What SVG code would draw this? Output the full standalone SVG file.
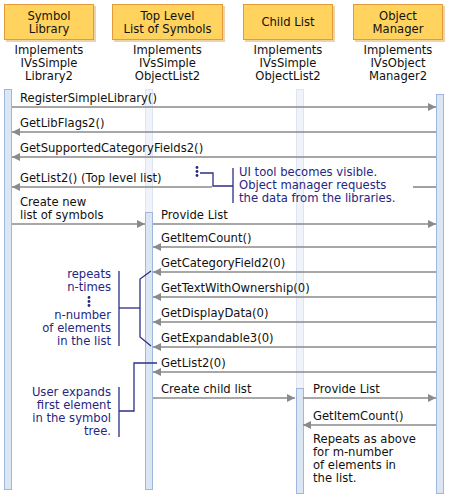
<svg xmlns="http://www.w3.org/2000/svg" width="452" height="497" viewBox="0 0 452 497">
<style>
text{font-family:"DejaVu Sans","Verdana",sans-serif;font-size:11.6px;fill:#111}
.c{text-anchor:middle}
.e{text-anchor:end}
.n{fill:#262680}
.box{fill:#FFD35E;stroke:#E59A3A;stroke-width:1}
.sh{fill:#D8A85A;opacity:0.5}
.bar{fill:#DCE6F3;stroke:#9FB7DF;stroke-width:1}
.faint{fill:#F0F4FA;stroke:#DDE5F2;stroke-width:1}
.msg{stroke:#8A8A8A;stroke-width:1.6;fill:none}
.ann{stroke:#2B2F86;stroke-width:1.3;fill:none}
.dot{fill:#262680}
</style>
<defs>
<marker id="ah" markerUnits="userSpaceOnUse" markerWidth="9" markerHeight="8" refX="8" refY="4" orient="auto">
<path d="M0,0 L8,4 L0,8 z" fill="#8A8A8A"/>
</marker>
</defs>
<rect width="452" height="497" fill="#fff"/>

<g id="lifelines">
<rect class="bar" x="4.5" y="89.5" width="7" height="400"/>
<rect class="faint" x="145.5" y="89.5" width="7" height="123"/>
<rect class="bar" x="145.5" y="212.5" width="7" height="277"/>
<rect class="faint" x="296.5" y="89.5" width="7" height="299"/>
<rect class="bar" x="296.5" y="388.5" width="7" height="105"/>
<rect class="bar" x="436.5" y="94.5" width="7" height="399"/>
</g>

<g id="symbol-library">
<rect class="sh" x="6" y="6" width="90" height="36"/>
<rect class="box" x="4.5" y="4.5" width="89" height="35"/>
<text class="c" x="49" y="20">Symbol</text>
<text class="c" x="49" y="33">Library</text>
<text class="c" x="49" y="54">Implements</text>
<text class="c" x="49" y="67">IVsSimple</text>
<text class="c" x="49" y="80">Library2</text>
</g>

<g id="top-level-list">
<rect class="sh" x="114" y="6" width="111" height="36"/>
<rect class="box" x="112.5" y="4.5" width="110" height="35"/>
<text class="c" x="167.5" y="20">Top Level</text>
<text class="c" x="167.5" y="33">List of Symbols</text>
<text class="c" x="167.5" y="54">Implements</text>
<text class="c" x="167.5" y="67">IVsSimple</text>
<text class="c" x="167.5" y="80">ObjectList2</text>
</g>

<g id="child-list">
<rect class="sh" x="245" y="6" width="90" height="36"/>
<rect class="box" x="243.5" y="4.5" width="89" height="35"/>
<text class="c" x="288" y="26">Child List</text>
<text class="c" x="288" y="54">Implements</text>
<text class="c" x="288" y="67">IVsSimple</text>
<text class="c" x="288" y="80">ObjectList2</text>
</g>

<g id="object-manager">
<rect class="sh" x="355" y="6" width="90" height="36"/>
<rect class="box" x="353.5" y="4.5" width="89" height="35"/>
<text class="c" x="398" y="20">Object</text>
<text class="c" x="398" y="33">Manager</text>
<text class="c" x="398" y="54">Implements</text>
<text class="c" x="398" y="67">IVsObject</text>
<text class="c" x="398" y="80">Manager2</text>
</g>

<g id="connectors">
<line class="msg" x1="12" y1="107" x2="436" y2="107" marker-end="url(#ah)"/>
<line class="msg" x1="436" y1="132" x2="12" y2="132" marker-end="url(#ah)"/>
<line class="msg" x1="436" y1="157" x2="12" y2="157" marker-end="url(#ah)"/>
<line class="msg" x1="436" y1="187" x2="413" y2="187"/>
<line class="msg" x1="212" y1="187" x2="12" y2="187" marker-end="url(#ah)"/>
<line class="msg" x1="12" y1="224" x2="145" y2="224" marker-end="url(#ah)"/>
<line class="msg" x1="153" y1="224" x2="436" y2="224" marker-end="url(#ah)"/>
<line class="msg" x1="436" y1="247" x2="153" y2="247" marker-end="url(#ah)"/>
<line class="msg" x1="436" y1="272" x2="153" y2="272" marker-end="url(#ah)"/>
<line class="msg" x1="436" y1="297" x2="153" y2="297" marker-end="url(#ah)"/>
<line class="msg" x1="436" y1="322" x2="153" y2="322" marker-end="url(#ah)"/>
<line class="msg" x1="436" y1="347" x2="153" y2="347" marker-end="url(#ah)"/>
<line class="msg" x1="436" y1="372" x2="153" y2="372" marker-end="url(#ah)"/>
<line class="msg" x1="153" y1="398" x2="295" y2="398" marker-end="url(#ah)"/>
<line class="msg" x1="303" y1="398" x2="436" y2="398" marker-end="url(#ah)"/>
<line class="msg" x1="436" y1="425" x2="303" y2="425" marker-end="url(#ah)"/>
</g>

<g id="labels">
<text x="20" y="102">RegisterSimpleLibrary()</text>
<text x="20" y="127">GetLibFlags2()</text>
<text x="20" y="152">GetSupportedCategoryFields2()</text>
<text x="20" y="182">GetList2() (Top level list)</text>
<text x="20" y="206">Create new</text>
<text x="20" y="219">list of symbols</text>
<text x="161" y="219">Provide List</text>
<text x="161" y="242">GetItemCount()</text>
<text x="161" y="267">GetCategoryField2(0)</text>
<text x="161" y="292">GetTextWithOwnership(0)</text>
<text x="161" y="317">GetDisplayData(0)</text>
<text x="161" y="342">GetExpandable3(0)</text>
<text x="161" y="367">GetList2(0)</text>
<text x="161" y="393">Create child list</text>
<text x="313" y="393">Provide List</text>
<text x="313" y="420">GetItemCount()</text>
<text x="313" y="443">Repeats as above</text>
<text x="313" y="456">for m-number</text>
<text x="313" y="469">of elements in</text>
<text x="313" y="482">the list.</text>
</g>

<g id="note-ui">
<circle class="dot" cx="197" cy="167.5" r="1.4"/>
<circle class="dot" cx="197" cy="171.5" r="1.4"/>
<circle class="dot" cx="197" cy="175.5" r="1.4"/>
<polyline class="ann" points="200,173 213,173 213,186 233,186"/>
<line class="ann" x1="233" y1="168" x2="233" y2="203" stroke="#6A6AA6"/>
<text class="n" x="239" y="176">UI tool becomes visible.</text>
<text class="n" x="239" y="189">Object manager requests</text>
<text class="n" x="239" y="202">the data from the libraries.</text>
</g>

<g id="note-repeats">
<text class="n e" x="111" y="278">repeats</text>
<text class="n e" x="111" y="291">n-times</text>
<circle class="dot" cx="89" cy="297.5" r="1.4"/>
<circle class="dot" cx="89" cy="301.5" r="1.4"/>
<circle class="dot" cx="89" cy="305.5" r="1.4"/>
<text class="n e" x="111" y="319">n-number</text>
<text class="n e" x="111" y="332">of elements</text>
<text class="n e" x="111" y="345">in the list</text>
<line class="ann" x1="119" y1="271" x2="119" y2="346"/>
<line class="ann" x1="119" y1="308" x2="140" y2="308"/>
<polyline class="ann" points="151,271 140,279 140,337 151,346"/>
</g>

<g id="note-expand">
<text class="n e" x="111" y="396">User expands</text>
<text class="n e" x="111" y="409">first element</text>
<text class="n e" x="111" y="422">in the symbol</text>
<text class="n e" x="111" y="435">tree.</text>
<line class="ann" x1="119" y1="387" x2="119" y2="437"/>
<polyline class="ann" points="119,411 134,411 134,363 157,363"/>
</g>
</svg>
